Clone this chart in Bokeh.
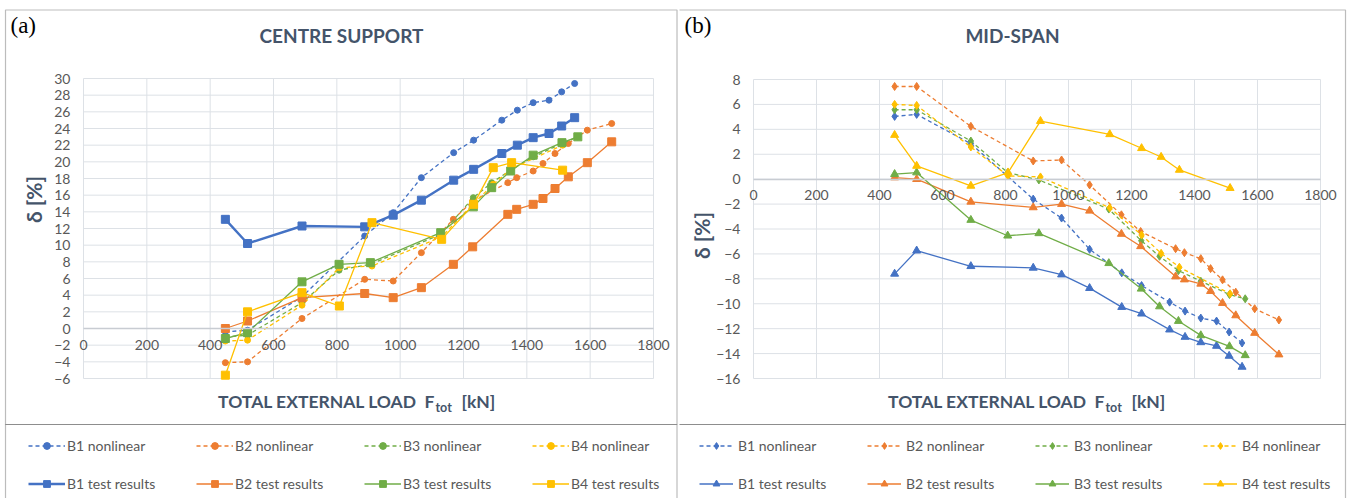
import math
from bokeh.plotting import figure
from bokeh.models import Range1d, FixedTicker, Label, Legend, LegendItem, BoxAnnotation
from bokeh.layouts import row
from bokeh.embed import file_html
from bokeh.resources import INLINE

# ---------------- data ----------------
# load steps (kN) per beam
load_b1 = [448, 518, 690, 888, 978, 1067, 1169, 1232, 1321, 1370, 1420, 1470, 1510, 1551]
load_b2 = [448, 518, 690, 888, 978, 1067, 1168, 1229, 1340, 1368, 1420, 1451, 1489, 1531, 1591, 1668]
load_b3 = [448, 518, 690, 807, 906, 1128, 1231, 1289, 1349, 1420, 1511, 1561]
load_b4 = [448, 518, 690, 808, 911, 1131, 1232, 1294, 1352, 1513]

# (a) centre support, delta [%]
cs_b1_nonlinear = [-0.4, -0.2, 3.8, 11.1, 13.9, 18.1, 21.1, 22.6, 25.0, 26.2, 27.1, 27.4, 28.4, 29.4]
cs_b2_nonlinear = [-4.1, -4.0, 1.2, 5.9, 5.7, 9.1, 13.1, 15.3, 17.5, 18.1, 18.9, 19.8, 21.0, 22.2, 23.8, 24.6]
cs_b3_nonlinear = [-1.0, -0.8, 3.1, 7.0, 7.7, 11.3, 15.7, 17.5, 19.0, 20.6, 22.2, 23.0]
cs_b4_nonlinear = [-1.5, -1.4, 2.8, 7.3, 7.5, 11.0, 15.0, 17.3, 19.2, 22.0]
cs_b1_test = [13.1, 10.2, 12.3, 12.2, 13.6, 15.4, 17.8, 19.1, 21.0, 22.0, 22.9, 23.4, 24.3, 25.3]
cs_b2_test = [0.0, 0.9, 3.7, 4.2, 3.7, 4.9, 7.7, 9.8, 13.7, 14.3, 14.9, 15.6, 16.8, 18.2, 19.9, 22.4]
cs_b3_test = [-1.2, -0.5, 5.6, 7.7, 7.9, 11.5, 14.6, 16.9, 18.9, 20.8, 22.3, 23.0]
cs_b4_test = [-5.6, 2.0, 4.3, 2.7, 12.7, 10.7, 14.9, 19.3, 19.9, 19.0]

# (b) mid-span, delta [%]
ms_b1_nonlinear = [5.04, 5.2, 2.85, -1.6, -3.12, -5.63, -7.52, -8.54, -9.87, -10.59, -11.15, -11.39, -12.27, -13.15]
ms_b2_nonlinear = [7.44, 7.44, 4.24, 1.46, 1.54, -0.46, -2.86, -4.2, -5.58, -5.9, -6.38, -7.18, -8.08, -9.07, -10.4, -11.3]
ms_b3_nonlinear = [5.57, 5.57, 3.06, 0.53, -0.06, -2.4, -4.94, -6.19, -7.34, -8.19, -9.26, -9.6]
ms_b4_nonlinear = [6.0, 5.92, 2.58, 0.26, 0.18, -2.3, -4.48, -5.95, -7.07, -9.2]
ms_b1_test = [-7.6, -5.74, -6.99, -7.12, -7.66, -8.75, -10.27, -10.8, -12.08, -12.67, -13.1, -13.39, -14.19, -15.07]
ms_b2_test = [0.13, 0.0, -1.82, -2.27, -2.0, -2.54, -4.4, -5.39, -7.82, -8.06, -8.4, -8.99, -9.95, -10.94, -12.35, -14.08]
ms_b3_test = [0.4, 0.53, -3.28, -4.54, -4.35, -6.75, -8.8, -10.22, -11.39, -12.54, -13.42, -14.14]
ms_b4_test = [3.54, 1.06, -0.54, 0.53, 4.66, 3.6, 2.48, 1.78, 0.74, -0.72]

beams = ["B1", "B2", "B3", "B4"]
loads = [load_b1, load_b2, load_b3, load_b4]
cs_nonlinear = [cs_b1_nonlinear, cs_b2_nonlinear, cs_b3_nonlinear, cs_b4_nonlinear]
cs_test = [cs_b1_test, cs_b2_test, cs_b3_test, cs_b4_test]
ms_nonlinear = [ms_b1_nonlinear, ms_b2_nonlinear, ms_b3_nonlinear, ms_b4_nonlinear]
ms_test = [ms_b1_test, ms_b2_test, ms_b3_test, ms_b4_test]

x_ticks = list(range(0, 1801, 200))
cs_y_ticks = list(range(-6, 31, 2))
ms_y_ticks = list(range(-16, 9, 2))

colors = ["#4472C4", "#ED7D31", "#70AD47", "#FFC000"]

FONT = "Lato"
TXT = "#595959"
TITLE_C = "#44546A"
GRID_C = "#DDE1E6"
H = 498


class Panel:
    """One panel: the frame covers the whole canvas; the plot area (xmin..xmax,
    ymin..ymax) is placed at the given pixel rectangle via the ranges."""

    def __init__(self, width, px_left, px_right, py_top, py_bottom, xr, yr):
        self.width = width
        self.xr, self.yr = xr, yr
        sx = (px_right - px_left) / (xr[1] - xr[0])
        sy = (py_bottom - py_top) / (yr[1] - yr[0])
        self.sx, self.sy = sx, sy
        self.px_left, self.py_top = px_left, py_top
        x0 = xr[0] - px_left / sx
        x1 = xr[1] + (width - px_right) / sx
        y1 = yr[1] + py_top / sy
        y0 = yr[0] - (H - py_bottom) / sy
        p = figure(width=width, height=H, x_range=Range1d(x0, x1), y_range=Range1d(y0, y1),
                   output_backend="svg", toolbar_location=None, min_border=0)
        p.title.visible = False
        p.outline_line_color = None
        p.background_fill_color = "white"
        p.border_fill_color = "white"
        p.xgrid.visible = False
        p.ygrid.visible = False
        self.p = p

    def x(self, px):
        return self.xr[0] + (px - self.px_left) / self.sx

    def y(self, py):
        return self.yr[1] - (py - self.py_top) / self.sy


def add_text(p, x, y, text, size, color, bold=False, font=FONT, align="center",
             baseline="middle", angle=0.0):
    p.add_layout(Label(x=x, y=y, text=text, text_font=font, text_font_size=size,
                       text_color=color, text_font_style="bold" if bold else "normal",
                       text_align=align, text_baseline=baseline, angle=angle))


def build(pn, yticks, nonlinear, test, nl_marker, t_marker, nl_size, t_size, b1_width,
          panel_tag, tag_px, title, title_cx, ytitle_pos, legend_x, glyph_w, standoff,
          box, off):
    p = pn.p
    xr, yr = pn.xr, pn.yr
    # grid lines from the tick lists
    p.segment(x0=x_ticks, y0=[yr[0]] * len(x_ticks), x1=x_ticks, y1=[yr[1]] * len(x_ticks),
              line_color=GRID_C, line_width=1)
    p.segment(x0=[xr[0]] * len(yticks), y0=yticks, x1=[xr[1]] * len(yticks), y1=yticks,
              line_color=GRID_C, line_width=1)

    # axes crossing at zero
    p.xaxis.fixed_location = 0
    p.xaxis.bounds = xr
    p.xaxis.ticker = FixedTicker(ticks=x_ticks)
    p.yaxis.fixed_location = 0
    p.yaxis.bounds = yr
    p.yaxis.ticker = FixedTicker(ticks=yticks)
    for ax in (p.xaxis[0], p.yaxis[0]):
        ax.major_tick_line_color = None
        ax.minor_tick_line_color = None
        ax.major_label_text_font = FONT
        ax.major_label_text_font_size = "14px"
        ax.major_label_text_color = TXT
    p.xaxis.axis_line_color = "#C8CCD2"
    p.xaxis.axis_line_width = 1.5
    p.xaxis.major_label_standoff = 5
    p.yaxis.axis_line_color = None
    p.yaxis.major_label_standoff = 7

    items_nl, items_t = [], []
    for i, b in enumerate(beams):
        c = colors[i]
        l1 = p.line(loads[i], nonlinear[i], line_color=c, line_width=1.3, line_dash="4 3")
        s1 = p.scatter(loads[i], nonlinear[i], marker=nl_marker, size=nl_size,
                       fill_color=c, line_color=c)
        items_nl.append(LegendItem(label=f"{b} nonlinear", renderers=[l1, s1]))
    for i, b in enumerate(beams):
        c = colors[i]
        w = b1_width if i == 0 else 1.3
        l2 = p.line(loads[i], test[i], line_color=c, line_width=w)
        s2 = p.scatter(loads[i], test[i], marker=t_marker, size=t_size,
                       fill_color=c, line_color=c)
        items_t.append(LegendItem(label=f"{b} test results", renderers=[l2, s2]))

    gh = 17
    gap = 38 - gh
    legend = Legend(items=items_nl + items_t, ncols=4, orientation="horizontal",
                    location=(legend_x - off, H - (483 + gh / 2)), border_line_color=None,
                    background_fill_alpha=0, padding=0, margin=0, spacing=gap,
                    glyph_width=glyph_w, glyph_height=gh, label_height=gh,
                    label_width=168 - glyph_w - standoff - gap, label_standoff=standoff,
                    label_text_font=FONT, label_text_font_size="14px",
                    label_text_color=TXT)
    p.add_layout(legend, "center")

    # panel boxes (figure panel and legend area)
    bl, br, bt, bb = box
    for top, bot in ((bt, 424), (424, 540)):
        p.add_layout(BoxAnnotation(left=pn.x(bl - off), right=pn.x(br - off),
                                   top=pn.y(top), bottom=pn.y(bot), fill_alpha=0,
                                   line_color="#222222", line_width=1.2))

    # texts
    fl = pn.px_left
    add_text(p, pn.x(tag_px - off), pn.y(12), panel_tag, "23px", "#000000",
             font="Liberation Serif", align="left", baseline="top")
    add_text(p, pn.x(title_cx - off), pn.y(35), title, "19px", TITLE_C, bold=True)
    add_text(p, pn.x(ytitle_pos[0] - off), pn.y(ytitle_pos[1]), "δ [%]", "21px", TITLE_C,
             bold=True, angle=math.pi / 2)
    add_text(p, pn.x(fl + 352), pn.y(401), "TOTAL EXTERNAL LOAD\u00a0\u00a0F", "17.5px",
             TITLE_C, bold=True, align="right")
    add_text(p, pn.x(fl + 352), pn.y(407), "tot", "12.5px", TITLE_C, bold=True, align="left")
    add_text(p, pn.x(fl + 378), pn.y(401), "[kN]", "17.5px", TITLE_C, bold=True, align="left")


# ---------------- panel (a) ----------------
pa = Panel(679, 83, 653, 78, 378, (0, 1800), (-6, 30))
build(pa, cs_y_ticks, cs_nonlinear, cs_test, "circle", "square", 6, 8, 2.4,
      "(a)", 10, "CENTRE SUPPORT", 341, (33, 199), 28, 37, 2, (5, 676.5, 9.5, 424), 0)

# ---------------- panel (b) ----------------
OFF = 679
pb = Panel(1351 - OFF, 74, 641, 79, 378, (0, 1800), (-16, 8))
build(pb, ms_y_ticks, ms_nonlinear, ms_test, "diamond", "triangle", 8, 8, 1.3,
      "(b)", 684, "MID-SPAN", 1012, (701, 235), 699, 34, 5, (660, 1345, 9.5, 424), OFF)

layout = row(pa.p, pb.p, spacing=0)
open("out.html", "w").write(file_html(layout, INLINE))
